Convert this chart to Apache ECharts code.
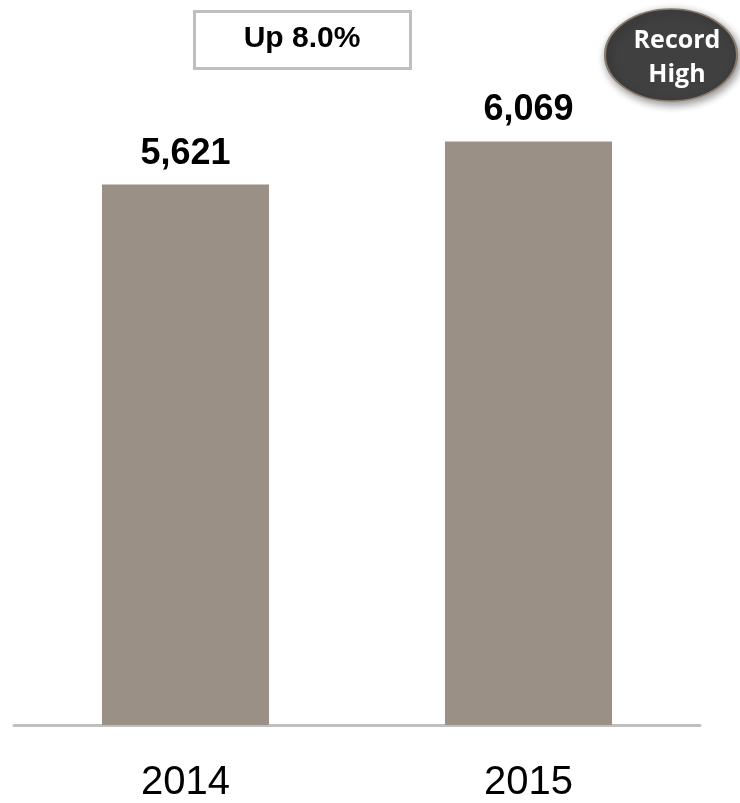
<!DOCTYPE html>
<html>
<head>
<meta charset="utf-8">
<script src="https://cdn.jsdelivr.net/npm/echarts@6/dist/echarts.min.js"></script>
<style>
  html, body { margin: 0; padding: 0; background: #fff; }
  #chart { width: 740px; height: 803px; }
</style>
</head>
<body>
<div id="chart"></div>
<script>
// Annual totals
const years = ['2014', '2015'];
const totals = [5621, 6069];
const changeText = 'Up 8.0%';
const badgeLines = ['Record', 'High'];

const chart = echarts.init(document.getElementById('chart'));

chart.setOption({
  animation: false,
  grid: { left: 14, right: 40, top: 52, bottom: 71 },
  xAxis: {
    type: 'category',
    data: years,
    axisLine: { lineStyle: { color: '#bfbfbf', width: 3 } },
    axisTick: { show: false },
    axisLabel: {
      color: '#000',
      fontFamily: 'Liberation Sans, Arial, sans-serif',
      fontSize: 40,
      margin: 38
    }
  },
  yAxis: {
    type: 'value',
    min: 0,
    max: 7000,
    show: false,
    splitLine: { show: false }
  },
  series: [{
    type: 'bar',
    data: totals,
    barWidth: '48.7%',
    itemStyle: { color: '#9a9085' },
    label: {
      show: true,
      position: 'top',
      distance: 13,
      color: '#000',
      fontFamily: 'Liberation Sans, Arial, sans-serif',
      fontWeight: 'bold',
      fontSize: 36,
      formatter: p => p.value.toLocaleString('en-US')
    }
  }],
  graphic: [
    {
      type: 'rect',
      left: 193,
      top: 10,
      shape: { width: 216, height: 57 },
      style: { fill: '#fff', stroke: '#bfbfbf', lineWidth: 3 }
    },
    {
      type: 'text',
      x: 302,
      y: 39,
      style: {
        text: changeText,
        fill: '#000',
        font: 'bold 30px "Liberation Sans", Arial, sans-serif',
        textAlign: 'center',
        textVerticalAlign: 'middle'
      }
    },
    {
      type: 'circle',
      x: 671,
      y: 55,
      scaleX: 66 / 46,
      scaleY: 1,
      shape: { cx: 0, cy: 0, r: 46 },
      style: {
        fill: '#404040',
        stroke: '#8a7c6c',
        lineWidth: 1.5,
        shadowBlur: 8,
        shadowOffsetX: 2,
        shadowOffsetY: 3,
        shadowColor: 'rgba(0,0,0,0.45)'
      }
    },
    {
      type: 'text',
      x: 677,
      y: 58,
      style: {
        text: badgeLines.join('\n'),
        fill: '#fff',
        font: 'bold 25px "Open Sans", sans-serif',
        lineHeight: 34,
        textAlign: 'center',
        textVerticalAlign: 'middle'
      }
    }
  ]
});
</script>
</body>
</html>
